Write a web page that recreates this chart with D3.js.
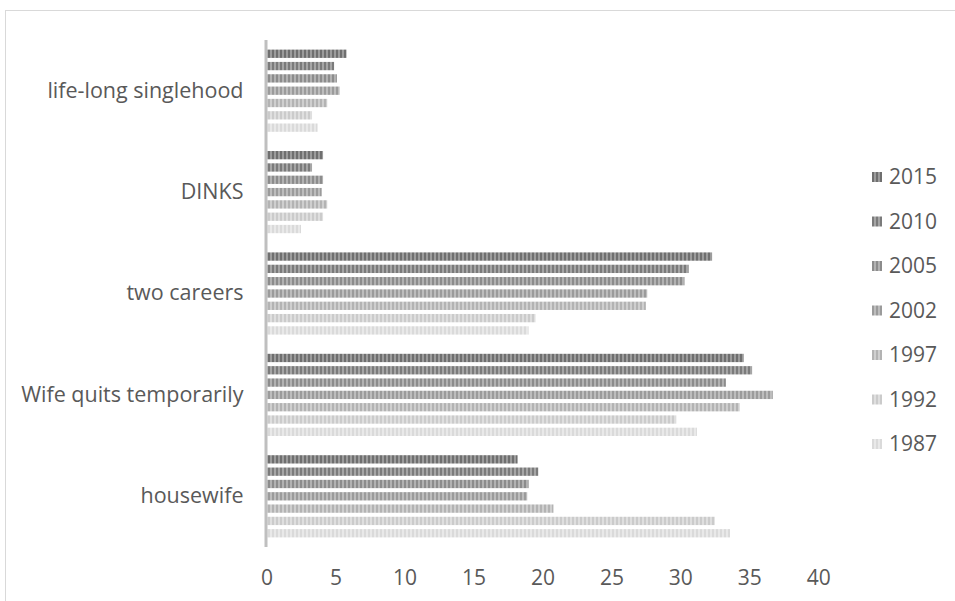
<!DOCTYPE html>
<html>
<head>
<meta charset="utf-8">
<script src="https://cdn.jsdelivr.net/npm/d3@7"></script>
<style>
  body { margin: 0; background: #ffffff; }
  text { font-family: "Open Sans", sans-serif; fill: #595959; }
</style>
</head>
<body>
<svg id="chart" width="955" height="601"></svg>
<script>
// Family-life course preference by survey year (percent)
const categories = ["life-long singlehood", "DINKS", "two careers", "Wife quits temporarily", "housewife"];
const years = ["2015", "2010", "2005", "2002", "1997", "1992", "1987"];
const xTicks = [0, 5, 10, 15, 20, 25, 30, 35, 40];

// one array per survey year, in category order
const values2015 = [5.8, 4.1, 32.3, 34.6, 18.2];
const values2010 = [4.9, 3.3, 30.6, 35.2, 19.7];
const values2005 = [5.1, 4.1, 30.3, 33.3, 19.0];
const values2002 = [5.3, 4.0, 27.6, 36.7, 18.9];
const values1997 = [4.4, 4.4, 27.5, 34.3, 20.8];
const values1992 = [3.3, 4.1, 19.5, 29.7, 32.5];
const values1987 = [3.7, 2.5, 19.0, 31.2, 33.6];

const seriesValues = [values2015, values2010, values2005, values2002, values1997, values1992, values1987];

// stripe colours (dark stripe, light stripe) per year
const stripeDark  = ["#6f6f6f", "#7b7b7b", "#8c8c8c", "#9b9b9b", "#b3b3b3", "#cbcbcb", "#dadada"];
const stripeLight = ["#9c9c9c", "#a6a6a6", "#b2b2b2", "#bdbdbd", "#cfcfcf", "#dfdfdf", "#e9e9e9"];

const svg = d3.select("#chart");

// outer chart frame
svg.append("rect")
  .attr("x", 5.5).attr("y", 10.5)
  .attr("width", 980).attr("height", 620)
  .attr("fill", "#ffffff")
  .attr("stroke", "#d9d9d9").attr("stroke-width", 1);

// vertical-stripe fill patterns
const defs = svg.append("defs");
years.forEach((yr, i) => {
  const p = defs.append("pattern")
    .attr("id", "stripe-" + yr)
    .attr("patternUnits", "userSpaceOnUse")
    .attr("width", 4).attr("height", 4);
  p.append("rect").attr("width", 4).attr("height", 4).attr("fill", stripeLight[i]);
  p.append("rect").attr("width", 2).attr("height", 4).attr("fill", stripeDark[i]);
});

const plotTop = 40, plotBottom = 547;
const x = d3.scaleLinear().domain([0, 40]).range([266.5, 818.3]);
const y0 = d3.scaleBand().domain(categories).range([plotTop, plotBottom]).padding(0);
const y1 = d3.scaleBand().domain(years).range([0, y0.bandwidth()])
  .paddingInner(0.325).paddingOuter(0.78);

const rows = categories.map((c, ci) => ({
  category: c,
  bars: years.map((yr, si) => ({ year: yr, value: seriesValues[si][ci] }))
}));

const groups = svg.append("g").selectAll("g")
  .data(rows).join("g")
  .attr("transform", d => `translate(0,${y0(d.category)})`);

groups.selectAll("rect")
  .data(d => d.bars).join("rect")
  .attr("x", x(0))
  .attr("y", d => y1(d.year))
  .attr("width", d => x(d.value) - x(0))
  .attr("height", y1.bandwidth())
  .attr("fill", d => `url(#stripe-${d.year})`);

// category axis
const yAxis = svg.append("g")
  .attr("transform", `translate(${x(0)},0)`)
  .call(d3.axisLeft(y0).tickSize(0).tickPadding(23));
yAxis.select(".domain").remove();
yAxis.selectAll("text").style("font-size", "21.5px").attr("fill", "#595959");

svg.append("line")
  .attr("x1", x(0) - 0.5).attr("x2", x(0) - 0.5)
  .attr("y1", plotTop).attr("y2", plotBottom)
  .attr("stroke", "#bfbfbf").attr("stroke-width", 3);

// value axis
const xAxis = svg.append("g")
  .attr("transform", `translate(0,${plotBottom})`)
  .call(d3.axisBottom(x).tickValues(xTicks).tickSize(0).tickPadding(23));
xAxis.select(".domain").remove();
xAxis.selectAll("text").style("font-size", "21px").attr("fill", "#595959");

// legend
const legend = svg.append("g").selectAll("g")
  .data(years).join("g")
  .attr("transform", (d, i) => `translate(872,${177 + i * 44.5})`);
legend.append("rect")
  .attr("x", 0).attr("y", -5).attr("width", 10).attr("height", 10)
  .attr("fill", d => `url(#stripe-${d})`);
legend.append("text")
  .attr("x", 17).attr("y", 0).attr("dy", "0.35em")
  .style("font-size", "21px")
  .text(d => d);
</script>
</body>
</html>
